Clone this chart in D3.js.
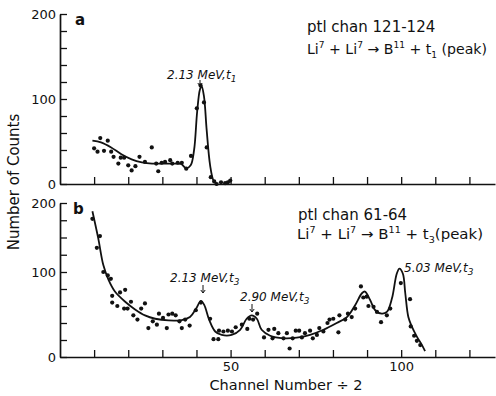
<!DOCTYPE html>
<html><head><meta charset="utf-8">
<script src="https://cdn.jsdelivr.net/npm/d3@7"></script>
<style>html,body{margin:0;padding:0;background:#fff;} svg{display:block}</style>
</head><body><svg id="chart" width="496" height="396"></svg>
<script>
// ---------- data ----------
const xTickValues = [10,20,30,40,50,60,70,80,90,100,110,120];
const xTickLabels = [50,100];
const aYTicks = [0,20,40,60,80,100,120,140,160,180,200];
const bYTicks = [0,20,40,60,80,100,125,150,175,200];
const yTickLabels = [0,100,200];

// panel a : ptl chan 121-124
const aPointChannels = [10.0,11.0,11.8,12.9,14.0,15.0,15.7,17.1,17.8,18.8,20.0,21.0,22.1,23.3,24.9,26.9,28.2,28.8,29.8,30.8,32.3,32.9,34.5,35.7,37.0,38.4,40.1,41.2,42.2,43.0,44.2,45.2,45.9,47.2,48.4,49.2,49.9];
const aPointCounts   = [42,38,54,39,51,38,32,24,31,31,22,16,21,32,26,43,24,15,25,26,28,24,25,25,18,33,89,116,96,43,8,3,0,2,1,2,4];
const aFitChannels = [9.5,12,15,18,21,24,27,30,33,35.5,37,38.3,39.3,40.2,41,41.5,42.2,43,44,45,46];
const aFitCounts   = [51,49,43,35,29,25.5,24,24,24,23.5,18.5,22,40,85,111,115,103,63,22,4,0];

// panel b : ptl chan 61-64
const bPointChannels = [9.5,10.8,11.7,12.7,14.0,14.9,15.3,15.3,16.8,17.6,18.8,19.1,19.8,20.8,21.5,22.7,23.8,24.9,25.9,27.2,28.4,29.0,30.2,31.3,31.8,32.9,33.9,35.0,35.7,36.7,38.0,39.8,41.3,44.0,45.0,46.4,46.6,47.9,49.2,50.4,51.5,53.3,54.9,55.5,56.6,57.8,59.8,61.1,62.3,62.8,64.0,65.5,66.5,67.3,68.2,69.1,70.1,70.9,71.8,73.3,74.1,75.3,76.0,77.2,78.4,79.0,80.1,81.6,81.9,83.6,84.4,85.5,86.5,88.2,88.9,89.9,90.4,91.9,92.9,94.1,95.8,96.8,99.9,102.6,102.8,103.8,104.6,105.6];
const bPointCounts   = [177,135,152,100,96,92,72,64,60,76,57,79,57,65,49,44,57,63,34,42,38,51,46,34,50,51,49,42,34,44,37,55,64,45,21,21,31,30,31,30,35,38,33,45,44,51,23,32,22,33,28,22,28,10,22,31,31,23,28,31,22,26,34,30,40,44,45,29,49,44,51,47,57,83,70,71,60,59,53,41,49,57,87,68,36,25,19,14];
const bFitChannels = [9.5,11.2,12.7,14.2,16.1,19.1,22.0,24.9,27.9,31.8,35.7,38.1,39.9,41.3,42.3,43.7,45.5,47.4,50.3,52.8,54.7,56.2,57.7,59.1,61.6,65.5,69.4,73.3,77.2,81.1,84.1,86.5,88.5,89.4,90.9,92.4,94.3,95.8,97.3,98.7,99.5,100.5,101.2,102.1,103.1,104.6,106.1,107];
const bFitCounts   = [188,149,110,91,77,65,56,49,45,43,43.5,47,57,66,61,44,30,26,26,32,45,49,45,32,25,22,22.7,26,32,40,47,61,75,77,67,55,51,53,69,98,105,98,75,47,36,24,14,7];

// ---------- drawing ----------
const ink = "#111";
const svg = d3.select("#chart");
svg.append("rect").attr("width",496).attr("height",396).attr("fill","#fff");

const x = d3.scaleLinear().domain([0,127.5]).range([60,495]);
const yA = d3.scaleLinear().domain([0,200]).range([184,14]);
const yB = d3.scaleLinear().domain([0,100,200]).range([357,272,203]);

function styleAxis(g){
  g.attr("font-family","'DejaVu Sans', sans-serif").attr("font-size",13);
  g.select(".domain").attr("stroke",ink).attr("stroke-width",1.7);
  g.selectAll(".tick line").attr("stroke",ink).attr("stroke-width",1.3);
  g.selectAll(".tick text").attr("fill",ink);
}

function panel(yScale, yTicks, xBase, showXLabels, pc, pv, fc, fv){
  const gx = svg.append("g").attr("transform",`translate(0,${xBase})`)
    .call(d3.axisBottom(x).tickValues(xTickValues).tickSize(-7).tickSizeOuter(0).tickPadding(5)
      .tickFormat(d => showXLabels && xTickLabels.includes(d) ? d : ""));
  styleAxis(gx);
  const gy = svg.append("g").attr("transform","translate(60,0)")
    .call(d3.axisLeft(yScale).tickValues(yTicks).tickSize(-7).tickSizeOuter(0).tickPadding(4)
      .tickFormat(d => yTickLabels.includes(d) ? d : ""));
  styleAxis(gy);

  const fit = fc.map((c,i)=>[c,fv[i]]);
  svg.append("path").datum(fit)
    .attr("d", d3.line().x(d=>x(d[0])).y(d=>yScale(d[1])).curve(d3.curveCatmullRom.alpha(0.5)))
    .attr("fill","none").attr("stroke",ink).attr("stroke-width",1.8);

  svg.append("g").selectAll("circle").data(pc.map((c,i)=>[c,pv[i]])).join("circle")
    .attr("cx",d=>x(d[0])).attr("cy",d=>yScale(d[1])).attr("r",2.1).attr("fill",ink);
}

panel(yA, aYTicks, 184, false, aPointChannels, aPointCounts, aFitChannels, aFitCounts);
panel(yB, bYTicks, 357, true, bPointChannels, bPointCounts, bFitChannels, bFitCounts);

const font = "'DejaVu Sans', sans-serif";
function txt(xp, yp, size, opts={}){
  return svg.append("text").attr("x",xp).attr("y",yp).attr("font-family",font)
    .attr("font-size",size).attr("fill",ink)
    .attr("font-weight",opts.bold?"bold":null).attr("font-style",opts.italic?"italic":null)
    .attr("text-anchor",opts.anchor||"start");
}
function reaction(xp, yp, sub, tail, width){
  const t = txt(xp, yp, 14).attr("textLength",width).attr("lengthAdjust","spacingAndGlyphs");
  t.append("tspan").text("Li");
  t.append("tspan").attr("dy",-6).attr("font-size",9).text("7");
  t.append("tspan").attr("dy",6).text(" + Li");
  t.append("tspan").attr("dy",-6).attr("font-size",9).text("7");
  t.append("tspan").attr("dy",6).text(" → B");
  t.append("tspan").attr("dy",-6).attr("font-size",9).text("11");
  t.append("tspan").attr("dy",6).text(" + t");
  t.append("tspan").attr("dy",4).attr("font-size",9).text(sub);
  t.append("tspan").attr("dy",-4).text(tail);
}
function peakLabel(xp, yp, energy, sub){
  const t = txt(xp, yp, 12, {italic:true});
  t.append("tspan").text(energy + " MeV,t");
  t.append("tspan").attr("dy",3).attr("font-size",9).text(sub);
}
function arrow(xp, y1, y2){
  svg.append("line").attr("x1",xp).attr("x2",xp).attr("y1",y1).attr("y2",y2)
    .attr("stroke",ink).attr("stroke-width",1);
  svg.append("path").attr("d",`M${xp-2.2},${y2-3}L${xp},${y2}L${xp+2.2},${y2-3}`)
    .attr("fill","none").attr("stroke",ink).attr("stroke-width",1);
}

// panel labels
txt(75, 25, 15, {bold:true}).text("a");
txt(73, 214, 15, {bold:true}).text("b");

// panel a texts
txt(307, 32, 15).text("ptl chan 121-124");
reaction(307, 54, "1", " (peak)", 180);
peakLabel(167, 79, "2.13", "1");
arrow(200, 80, 86);

// panel b texts
txt(298, 220, 15).text("ptl chan 61-64");
reaction(297, 239, "3", "(peak)", 186);
peakLabel(170, 282, "2.13", "3");
arrow(203, 285, 293);
peakLabel(240, 301, "2.90", "3");
arrow(252, 304, 312);
peakLabel(404, 272, "5.03", "3");

// axis titles
txt(286, 390, 14.5, {anchor:"middle"}).text("Channel Number ÷ 2");
txt(0, 0, 15, {anchor:"middle"}).attr("transform","translate(19,182) rotate(-90)").text("Number of Counts");
</script>
</body></html>
